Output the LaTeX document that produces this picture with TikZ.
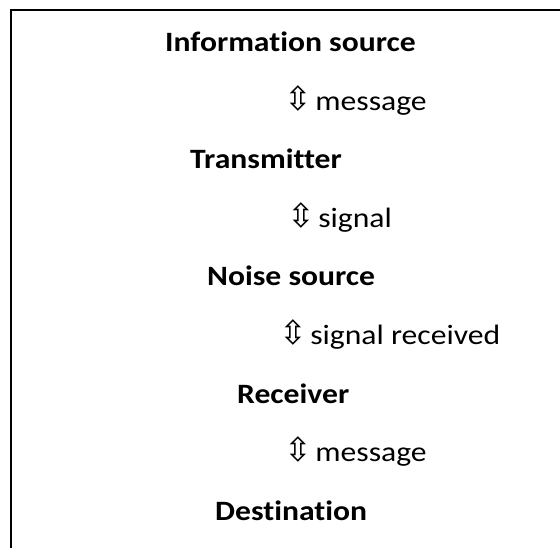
\documentclass[tikz,border=0pt]{standalone}
\usepackage{fontspec}
\setmainfont{Carlito}[FakeStretch=1.13, Ligatures=NoCommon]
\newfontfamily\symfont{DejaVu Sans}
\newcommand{\flowsym}{{\symfont\fontsize{33}{36}\selectfont ⇳}\hspace{3.5pt}}
\usetikzlibrary{positioning}

\begin{document}
\begin{tikzpicture}[x=1pt, y=-1pt,
    stage/.style={anchor=base west, inner sep=0pt, font=\fontsize{28}{32}\selectfont\bfseries},
    flow/.style={anchor=base west, inner sep=0pt, font=\fontsize{28}{32}\selectfont},
    frame/.style={line width=2pt, black}
]

\useasboundingbox (0,0) rectangle (560,548);
\draw[frame] (11,548) -- (11,10) -- (560,10);

\node[stage] (src) at (165,52) {Information source};
\node[flow] (msg1) at (284,110.5) {\flowsym message};
\node[stage] (tx) at (190,169) {Transmitter};
\node[flow] (sig) at (287,227.5) {\flowsym signal};
\node[stage] (noise) at (207,286) {Noise source};
\node[flow] (sigrx) at (279,344.5) {\flowsym signal received};
\node[stage] (rx) at (237,403) {Receiver};
\node[flow] (msg2) at (284,461.5) {\flowsym message};
\node[stage] (dst) at (215,520) {Destination};

\end{tikzpicture}
\end{document}
